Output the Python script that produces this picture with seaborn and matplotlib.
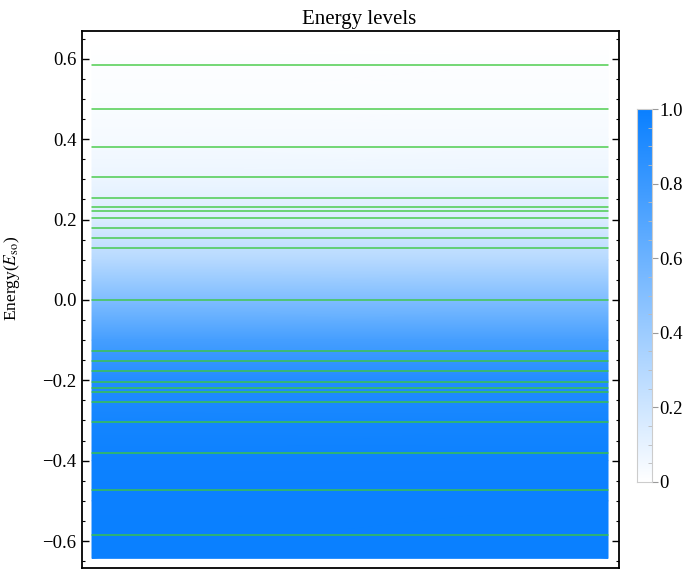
import numpy as np
import pandas as pd
import matplotlib
matplotlib.use("Agg")
import matplotlib.pyplot as plt
from matplotlib.colors import LinearSegmentedColormap
from matplotlib.ticker import MultipleLocator, FixedLocator
import seaborn as sns

# Energy eigenvalues (units of E_so)
levels = [0.585, 0.474, 0.380, 0.305, 0.254, 0.230, 0.220, 0.204, 0.178, 0.153, 0.128,
          0.0,
          -0.128, -0.153, -0.178, -0.204, -0.220, -0.230, -0.254, -0.305, -0.380, -0.474, -0.585]

# Occupation shading of the background versus energy
fill_energy = [0.643, 0.6, 0.5, 0.4, 0.3, 0.2, 0.1, 0.0, -0.1, -0.2, -0.3, -0.4, -0.5, -0.643]
fill_level = [0.0, 0.01, 0.02, 0.04, 0.08, 0.15, 0.30, 0.52, 0.76, 0.90, 0.96, 0.985, 0.995, 1.0]

yticks = [-0.6, -0.4, -0.2, 0.0, 0.2, 0.4, 0.6]
cbar_ticks = [0, 0.2, 0.4, 0.6, 0.8, 1.0]
cbar_labels = ["0", "0.2", "0.4", "0.6", "0.8", "1.0"]

sns.set_theme(style="ticks")
plt.rcParams["font.family"] = ["Liberation Serif", "DejaVu Serif"]
plt.rcParams["mathtext.fontset"] = "stix"
plt.rcParams["text.color"] = "black"
plt.rcParams["axes.labelcolor"] = "black"
plt.rcParams["xtick.color"] = "black"
plt.rcParams["ytick.color"] = "black"

cmap = LinearSegmentedColormap.from_list("occ", ["#ffffff", "#0a80ff"])

fig = plt.figure(figsize=(6.86, 5.71), dpi=100)
ax = fig.add_axes([82 / 686, 1 - 568 / 571, 537 / 686, 537 / 571])

# background density
X = np.array([0.0, 1.0])
Y = np.array(fill_energy)
C = np.column_stack([fill_level, fill_level])
XX, YY = np.meshgrid(X, Y)
ax.pcolormesh(XX, YY, C, cmap=cmap, vmin=0, vmax=1, shading="gouraud", zorder=0)

# energy levels as horizontal segments
df = pd.DataFrame({
    "x": np.tile([0.0, 1.0], len(levels)),
    "E": np.repeat(levels, 2),
    "level": np.repeat(np.arange(len(levels)), 2),
})
sns.lineplot(data=df, x="x", y="E", units="level", estimator=None,
             color="#3cc83c", linewidth=1.1, alpha=0.9, ax=ax, zorder=2)

ax.set_xlim(-0.0194, 1.0213)
ax.set_ylim(-0.667, 0.669)
ax.set_xticks([])
ax.yaxis.set_major_locator(FixedLocator(yticks))
ax.yaxis.set_minor_locator(MultipleLocator(0.05))
ax.set_yticklabels([f"{v:.1f}".replace("-", "\u2212") for v in yticks])
ax.tick_params(axis="y", which="major", direction="in", length=5, width=1.0,
               left=True, right=True, labelsize=13.5, colors="black", pad=4)
ax.tick_params(axis="y", which="minor", direction="in", length=2.5, width=0.8,
               left=True, right=True, colors="black")
ax.tick_params(axis="x", which="both", bottom=False, top=False)
for s in ax.spines.values():
    s.set_visible(True)
    s.set_color("black")
    s.set_linewidth(1.3)

ax.set_xlabel("")
ax.set_ylabel(r"Energy($E_{\mathrm{so}}$)", fontsize=12.5, color="black")
ax.yaxis.set_label_coords(-0.112, 0.54)
ax.set_title("Energy levels", fontsize=15, x=0.516, pad=5, color="black")

# colour legend
cax = fig.add_axes([637 / 686, 1 - 482 / 571, 15 / 686, 373 / 571])
grad = np.linspace(0, 1, 256).reshape(-1, 1)
cax.imshow(grad, cmap=cmap, aspect="auto", origin="lower", extent=[0, 1, 0, 1])
cax.set_xticks([])
cax.yaxis.tick_right()
cax.yaxis.set_major_locator(FixedLocator(cbar_ticks))
cax.yaxis.set_minor_locator(MultipleLocator(0.05))
cax.set_yticklabels(cbar_labels)
cax.set_ylim(0, 1)
cax.tick_params(axis="y", which="major", direction="out", length=4, width=0.8,
                color="#999999", labelsize=13.5, labelcolor="black", pad=1,
                left=False, right=True)
cax.tick_params(axis="y", which="minor", direction="in", length=3, width=0.6,
                color="#bbbbbb", left=False, right=True)
for s in cax.spines.values():
    s.set_color("#cccccc")
    s.set_linewidth(0.8)

fig.savefig("out.png", dpi=100)
